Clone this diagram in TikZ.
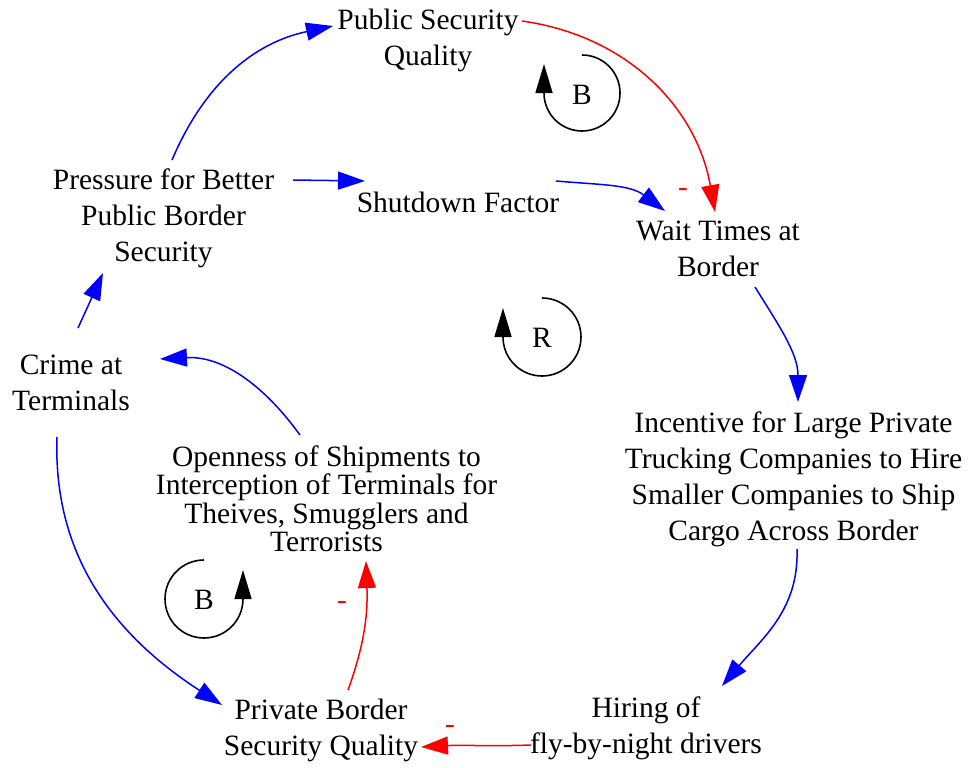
\documentclass[tikz,border=0pt]{standalone}
\usepackage{fontspec}
\setmainfont{Liberation Serif}
\usetikzlibrary{arrows.meta}
\begin{document}
\begin{tikzpicture}[x=1pt,y=-1pt,
  vname/.style={align=center, inner sep=0pt, outer sep=0pt, font=\fontsize{29.5}{36}\selectfont},
  tightlines/.style={font=\fontsize{29.5}{28.5}\selectfont},
  posarrow/.style={draw=blue, line width=1.5pt, -{Triangle[length=27pt,width=18pt]}},
  negarrow/.style={draw=red, line width=1.5pt, -{Triangle[length=27pt,width=18pt]}},
  polarity/.style={text=red, inner sep=0pt, font=\fontsize{29.5}{30}\selectfont},
  loopsym/.style={draw=black, line width=1.6pt, -{Triangle[length=29pt,width=17pt]}},
  looplabel/.style={inner sep=0pt, font=\fontsize{29.5}{30}\selectfont}
]
\useasboundingbox[fill=white] (0,0) rectangle (969,768);

% variables
\node[vname] (psq)   at (428,40.5)  {Public Security\\Quality};
\node[vname] (pres)  at (163.5,218) {Pressure for Better\\Public Border\\Security};
\node[vname] (shut)  at (458,202)   {Shutdown Factor};
\node[vname] (wait)  at (718,249)   {Wait Times at\\Border};
\node[vname] (crime) at (71,382.5)  {Crime at\\Terminals};
\node[vname,tightlines] (open) at (326.5,499)
  {Openness of Shipments to\\Interception of Terminals for\\Theives, Smugglers and\\Terrorists};
\node[vname] (inc)   at (793.5,479) {Incentive for Large Private\\Trucking Companies to Hire\\Smaller Companies to Ship\\Cargo Across Border};
\node[vname] (hire)  at (646,728)   {Hiring of\\fly-by-night drivers};
\node[vname] (priv)  at (321,730)   {Private Border\\Security Quality};

% loop identifiers
\node[looplabel] (lb1) at (582,95)  {B};
\node[looplabel] (lr)  at (542,338) {R};
\node[looplabel] (lb2) at (204,600) {B};
\draw[loopsym] ([shift={(0,-40)}]lb1.center) arc[start angle=90, end angle=-180, radius=38pt] -- ++(0,-29);
\draw[loopsym] ([shift={(0,-40)}]lr.center)  arc[start angle=90, end angle=-180, radius=39pt] -- ++(0,-29);
\draw[loopsym] ([shift={(0,-40)}]lb2.center) arc[start angle=90, end angle=360, radius=39pt] -- ++(0,-29);

% causal links
\draw[posarrow] ([shift={(8.5,-58)}]pres.center) to[out=67,in=192] ([shift={(-95,-14.5)}]psq.center);
\draw[negarrow] ([shift={(94,-19.5)}]psq.center) to[out=-8,in=100] ([shift={(-3,-37)}]wait.center);
\draw[posarrow] ([shift={(129.5,-38)}]pres.center) -- ([shift={(-93,-21)}]shut.center);
\draw[posarrow] ([shift={(98,-21)}]shut.center) to[out=-5,in=143] ([shift={(-53,-38)}]wait.center);
\draw[posarrow] ([shift={(37,38)}]wait.center) to[out=-58,in=90] ([shift={(4.5,-77)}]inc.center);
\draw[posarrow] ([shift={(3.5,70)}]inc.center) to[out=-88,in=50] ([shift={(76,-42)}]hire.center);
\draw[negarrow] ([shift={(-115,17)}]hire.center) to[out=182,in=3] ([shift={(100,17)}]priv.center);
\draw[negarrow] ([shift={(27,-40)}]priv.center) to[out=70,in=-88] ([shift={(39.5,62)}]open.center);
\draw[posarrow] ([shift={(-26.5,-64)}]open.center) to[out=126,in=3] ([shift={(89,-23.5)}]crime.center);
\draw[posarrow] ([shift={(7,-54.5)}]crime.center) -- ([shift={(-60.5,55)}]pres.center);
\draw[posarrow] ([shift={(-14,54.5)}]crime.center) to[out=-92,in=147] ([shift={(-99,-25)}]priv.center);

% link polarities
\node[polarity] (m1) at (683,192) {-};
\node[polarity] (m2) at (342,605) {-};
\node[polarity] (m3) at (450,729) {-};
\end{tikzpicture}
\end{document}
